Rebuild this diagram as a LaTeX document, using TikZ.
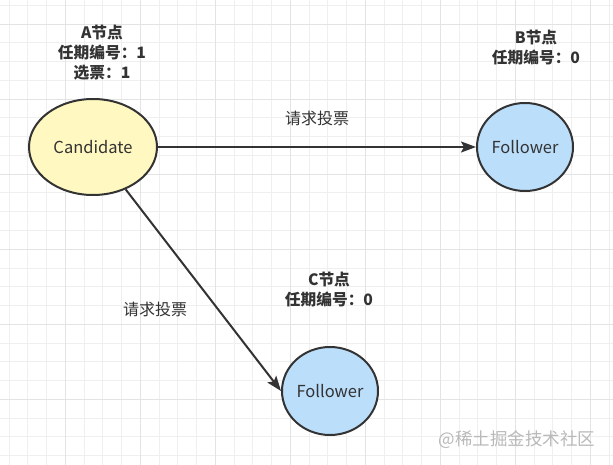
\documentclass[tikz,border=0pt]{standalone}
\usepackage{fontspec}
\setmainfont{Noto Sans CJK SC}
\usetikzlibrary{shapes.geometric,arrows.meta}
\definecolor{ink}{HTML}{333333}
\definecolor{candfill}{HTML}{FFF8C0}
\definecolor{follfill}{HTML}{BBDEFB}
\definecolor{minorgrid}{HTML}{EFEFEF}
\definecolor{majorgrid}{HTML}{E3E3E3}

\begin{document}
\begin{tikzpicture}[x=1pt,y=-1pt]
\tikzset{vote/.style={-{Stealth[length=15pt,width=11pt,inset=3pt]}, line width=2pt, draw=ink},
  state/.style={ellipse, draw=ink, line width=2pt, inner sep=0pt, text=ink,
    font=\fontsize{16.5pt}{18pt}\selectfont},
  candidate/.style={state, fill=candfill, minimum width=128pt, minimum height=96pt},
  follower/.style={state, fill=follfill, minimum width=96pt, minimum height=88pt},
  info/.style={align=center, text=ink, font=\bfseries\fontsize{15.7pt}{20pt}\selectfont},
  msg/.style={text=ink, font=\fontsize{16pt}{18pt}\selectfont}}
\useasboundingbox (0,0) rectangle (613,465);
\fill[white] (0,0) rectangle (613,465);
% Grid
\begin{scope}
\clip (0,0) rectangle (613,465);
\foreach \i in {0,...,32}
  \draw[minorgrid, line width=1pt] ({9+18.75*\i},0) -- ++(0,465);
\foreach \j in {0,...,24}
  \draw[minorgrid, line width=1pt] (0,{5.5+18.75*\j}) -- ++(613,0);
\foreach \i in {3,7,...,31}
  \draw[majorgrid, line width=1pt] ({9+18.75*\i},0) -- ++(0,465);
\foreach \j in {1,5,...,21}
  \draw[majorgrid, line width=1pt] (0,{5.5+18.75*\j}) -- ++(613,0);
\end{scope}
% Nodes
\node[candidate] (a) at (93,147) {Candidate};
\node[follower] (b) at (525,147) {Follower};
\node[follower] (c) at (330,391) {Follower};
% Requests
\draw[vote] (a) -- (b);
\draw[vote] (a) -- (c.west);
% Text
\node[info] (ainfo) at (102,53) {A节点\\任期编号：1\\选票：1};
\node[info] (binfo) at (536,48) {B节点\\任期编号：0};
\node[info] (cinfo) at (329,290) {C节点\\任期编号：0};
\node[msg] (ab) at (317,118) {请求投票};
\node[msg] (ac) at (155,309) {请求投票};
\node[text=gray!55, font=\fontsize{17.5pt}{20pt}\selectfont] (mark) at (517,440) {@稀土掘金技术社区};
\end{tikzpicture}
\end{document}
